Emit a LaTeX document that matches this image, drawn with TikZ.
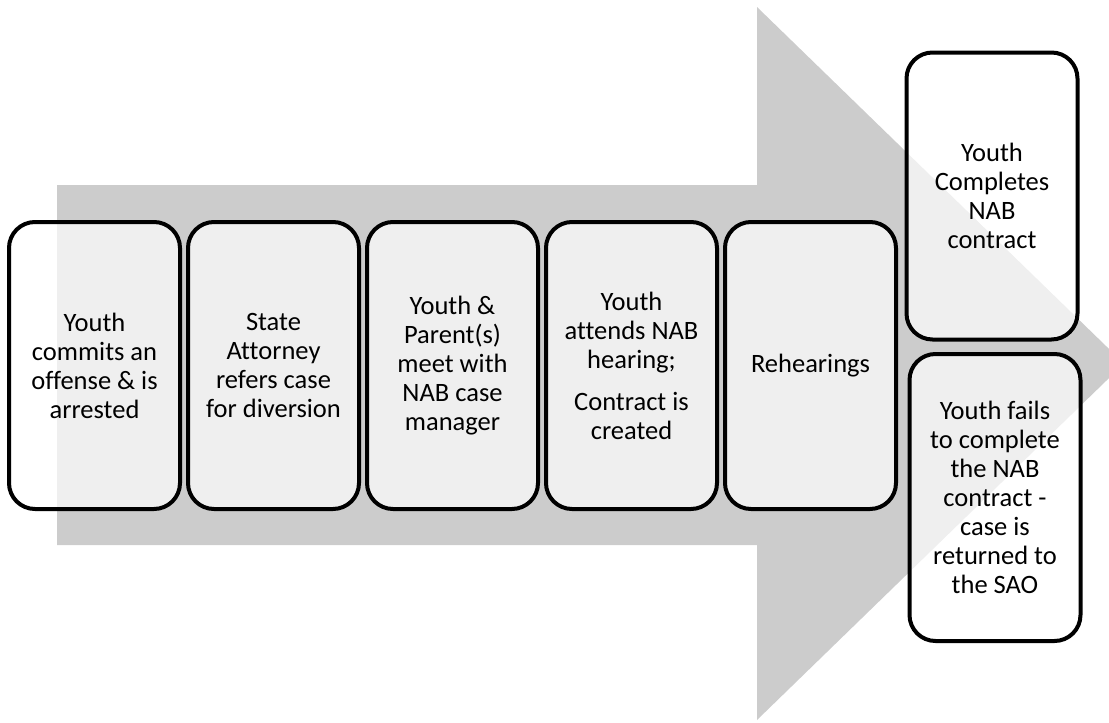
\documentclass[tikz,border=0pt]{standalone}
\usepackage{fontspec}
\setmainfont[Ligatures={NoCommon}]{Carlito}
\usepackage{xcolor}
\usepackage{tikz}
\usetikzlibrary{positioning,calc}
\definecolor{arrowgray}{HTML}{CCCCCC}
\tikzstyle{stage} = [draw, line width=4pt, rounded corners=26pt, fill=white, fill opacity=0.7, text opacity=1,
    minimum width=171pt, minimum height=287pt, align=center, font=\fontsize{26.5}{29}\selectfont]
\tikzstyle{bigarrow} = [fill=arrowgray, draw=none]

\begin{document}
\begin{tikzpicture}[x=1pt, y=-1pt, node distance=179pt]
    \useasboundingbox (0,0) rectangle (1109,723);
    \clip (0,0) rectangle (1109,723);
    % The big grey arrow goes first, so the stages sit on top of it
    \fill [bigarrow] (57,185) -- (757,185) -- (757,7) -- (1124,363.5) -- (757,720)
        -- (757,545) -- (57,545) -- cycle;

    % Stages in a row along the arrow
    \node [stage] (arrest) at (94.5,365.5) {Youth\\commits an\\offense \& is\\arrested};
    \node [stage, right of=arrest] (referral) {State\\Attorney\\refers case\\for diversion};
    \node [stage, right of=referral] (meeting) {Youth \&\\Parent(s)\\meet with\\NAB case\\manager};
    \node [stage, right of=meeting] (hearing) {Youth\\attends NAB\\hearing;\\[13pt]Contract is\\created};
    \node [stage, right of=hearing] (rehearing) {Rehearings};

    % The two outcomes at the head of the arrow
    \node [stage] (completed) at (992,196) {Youth\\Completes\\NAB\\contract};
    \node [stage, below of=completed, node distance=301.5pt, xshift=3pt] (failed)
        {Youth fails\\to complete\\the NAB\\contract -\\case is\\returned to\\the SAO};
\end{tikzpicture}
\end{document}
